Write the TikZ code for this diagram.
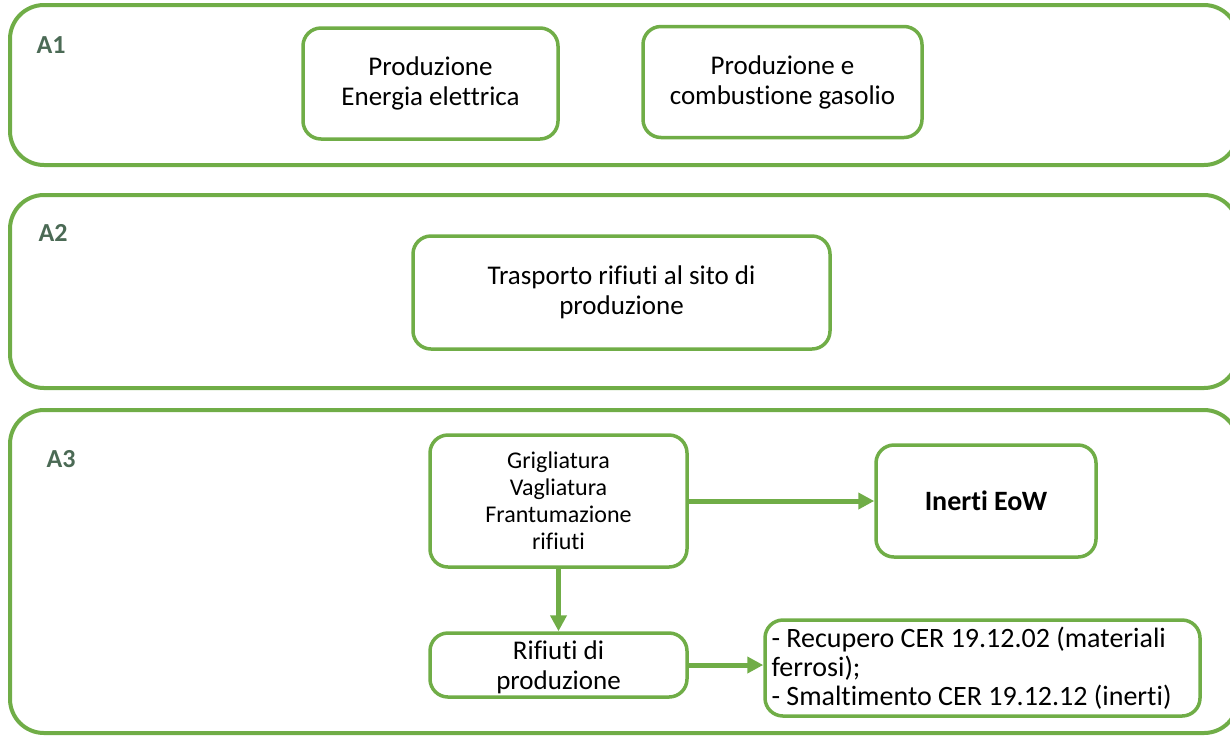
\documentclass[tikz,border=0pt]{standalone}
\usepackage{fontspec}
\setmainfont{Carlito}[Ligatures=NoCommon]
\usetikzlibrary{arrows.meta}
\definecolor{verde}{HTML}{70AD47}
\definecolor{grigioverde}{HTML}{4B6A55}

\begin{document}
\begin{tikzpicture}[x=0.5pt,y=-0.5pt,
	area/.style={draw=verde,line width=2pt,rounded corners=17pt},
	etichetta/.style={text=grigioverde,font=\fontsize{13}{15}\selectfont\bfseries},
	box/.style={draw=verde,line width=1.75pt,rounded corners=9pt,align=center,inner sep=0pt,font=\fontsize{13.5}{15}\selectfont},
	freccia/.style={draw=verde,line width=2.5pt,-{Triangle[length=8pt,width=8pt]}}]
	\useasboundingbox (0,0) rectangle (1230,735);
	% aree
	\draw[area] (10,5) rectangle (1238,165);
	\draw[area] (10,195) rectangle (1238,388);
	\draw[area] (10,410) rectangle (1238,733);
	\node[etichetta] (la1) at (51,45) {A1};
	\node[etichetta] (la2) at (53,233) {A2};
	\node[etichetta] (la3) at (61,459) {A3};
	% A1
	\node[box,minimum width=127.5pt,minimum height=55.5pt] (e1) at (430.5,83.5) {Produzione\\Energia elettrica};
	\node[box,minimum width=139.5pt,minimum height=55.5pt] (e2) at (782.5,82) {Produzione e\\combustione gasolio};
	% A2
	\node[box,minimum width=208.5pt,minimum height=56.5pt] (t1) at (621.5,292.5) {Trasporto rifiuti al sito di\\produzione};
	% A3
	\node[box,minimum width=128.5pt,minimum height=66pt,font=\fontsize{12}{13.5}\selectfont] (g1) at (558.5,501) {Grigliatura\\Vagliatura\\Frantumazione\\rifiuti};
	\node[box,minimum width=110pt,minimum height=56pt,font=\fontsize{14}{16}\selectfont\bfseries] (i1) at (986,501) {Inerti EoW};
	\node[box,minimum width=128.5pt,minimum height=32pt,text depth=0pt] (r1) at (558.5,665) {Rifiuti di\\produzione};
	\node[box,minimum width=217.5pt,minimum height=48pt,text width=211pt,align=flush left,font=\fontsize{14}{14.5}\selectfont] (l1) at (982.5,668) {- Recupero CER 19.12.02 (materiali\\ferrosi);\\- Smaltimento CER 19.12.12 (inerti)};
	\draw[freccia] (g1.east) -- (i1.west);
	\draw[freccia] (g1.south) -- (r1.north);
	\draw[freccia] (r1.east) -- (r1.east -| l1.west);
\end{tikzpicture}
\end{document}
